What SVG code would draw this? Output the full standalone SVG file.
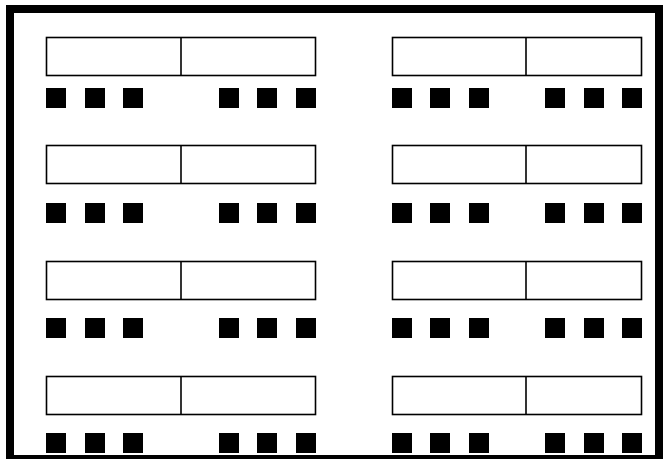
<svg xmlns="http://www.w3.org/2000/svg" width="672" height="459" viewBox="0 0 672 459">
<style>
.desk{fill:#fff;stroke:#000;stroke-width:1.6}
.div{stroke:#000;stroke-width:1.6}
.chair{fill:#000}
.wall{fill:none;stroke:#000;stroke-width:8}
</style>
<defs>
<g id="deskL">
<rect class="desk" x="46.5" y="0.5" width="269" height="38"/>
<line class="div" x1="181" y1="0.5" x2="181" y2="38.5"/>
</g>
<g id="chairsL">
<rect class="chair" x="46" y="0" width="20" height="20"/>
<rect class="chair" x="85" y="0" width="20" height="20"/>
<rect class="chair" x="123" y="0" width="20" height="20"/>
<rect class="chair" x="219" y="0" width="20" height="20"/>
<rect class="chair" x="257" y="0" width="20" height="20"/>
<rect class="chair" x="296" y="0" width="20" height="20"/>
</g>
<g id="deskR">
<rect class="desk" x="392.5" y="0.5" width="249" height="38"/>
<line class="div" x1="526" y1="0.5" x2="526" y2="38.5"/>
</g>
<g id="chairsR">
<rect class="chair" x="392" y="0" width="20" height="20"/>
<rect class="chair" x="430" y="0" width="20" height="20"/>
<rect class="chair" x="469" y="0" width="20" height="20"/>
<rect class="chair" x="545" y="0" width="20" height="20"/>
<rect class="chair" x="584" y="0" width="20" height="20"/>
<rect class="chair" x="622" y="0" width="20" height="20"/>
</g>
</defs>
<rect width="672" height="459" fill="#fff"/>
<rect id="room" class="wall" x="10" y="9" width="649" height="450"/>
<g id="row1-left"><use href="#deskL" y="37"/><use href="#chairsL" y="88"/></g>
<g id="row1-right"><use href="#deskR" y="37"/><use href="#chairsR" y="88"/></g>
<g id="row2-left"><use href="#deskL" y="145"/><use href="#chairsL" y="203"/></g>
<g id="row2-right"><use href="#deskR" y="145"/><use href="#chairsR" y="203"/></g>
<g id="row3-left"><use href="#deskL" y="261"/><use href="#chairsL" y="318"/></g>
<g id="row3-right"><use href="#deskR" y="261"/><use href="#chairsR" y="318"/></g>
<g id="row4-left"><use href="#deskL" y="376"/><use href="#chairsL" y="433"/></g>
<g id="row4-right"><use href="#deskR" y="376"/><use href="#chairsR" y="433"/></g>
<g id="connectors"/>
</svg>
